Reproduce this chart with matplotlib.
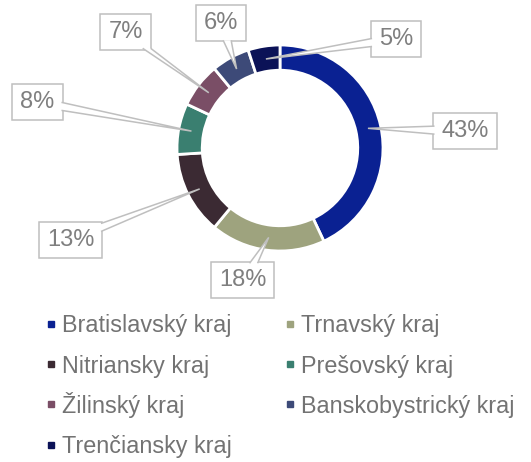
import numpy as np
import matplotlib
matplotlib.use("Agg")
import matplotlib.pyplot as plt
from matplotlib.patches import Polygon

# data
regions = ["Bratislavský kraj", "Trnavský kraj", "Nitriansky kraj", "Prešovský kraj",
           "Žilinský kraj", "Banskobystrický kraj", "Trenčiansky kraj"]
shares = [43, 18, 13, 8, 7, 6, 5]
colors = ["#0a2192", "#9ea37e", "#3b2a33", "#3a7f70", "#7a4e66", "#3d4a78", "#0b1257"]

# label box centres (pie radius = 1)
label_xy = [(1.796, 0.165), (-0.364, -1.282), (-2.034, -0.893), (-2.354, 0.451),
            (-1.500, 1.131), (-0.573, 1.209), (1.126, 1.063)]

PX = 1 / 103.0  # one pixel in data units (centre of ring at pixel 280,148)

plt.rcParams["font.family"] = ["Liberation Sans", "DejaVu Sans"]

fig = plt.figure(figsize=(5.31, 4.62), dpi=100)
ax = fig.add_axes([0, 0, 1, 1])

wedges, _ = ax.pie(shares, colors=colors, startangle=90, counterclock=False,
                   radius=1.0, wedgeprops=dict(width=0.245, edgecolor="white", linewidth=2))
ax.set_aspect("auto")
ax.set_xlim(-280 * PX, 251 * PX)
ax.set_ylim(-314 * PX, 148 * PX)
ax.axis("off")

fig.canvas.draw()
renderer = fig.canvas.get_renderer()

total = float(sum(shares))
start = 90.0
for i, v in enumerate(shares):
    mid = np.deg2rad(start - 360.0 * v / total / 2)
    start -= 360.0 * v / total
    tip = np.array([0.875 * np.cos(mid), 0.875 * np.sin(mid)])
    cx, cy = label_xy[i]
    t = ax.text(cx, cy, f"{v}%", ha="center", va="center", fontsize=17,
                color="#7f7f7f", zorder=5)
    bb = t.get_window_extent(renderer)
    w = bb.width * PX / 2 + 8 * PX
    h = 18 * PX
    box = Polygon([(cx - w, cy - h), (cx + w, cy - h), (cx + w, cy + h), (cx - w, cy + h)],
                  closed=True, fc="white", ec="#bfbfbf", lw=1.1, zorder=3)
    ax.add_patch(box)
    # pointer base where the ray centre->tip leaves the box
    d = tip - np.array([cx, cy])
    sx = w / abs(d[0]) if d[0] != 0 else np.inf
    sy = h / abs(d[1]) if d[1] != 0 else np.inf
    s = min(sx, sy)
    p = np.array([cx, cy]) + d * s
    half = 4 * PX
    inset = 1.2 * PX
    if sx < sy:
        yb = np.clip(p[1], cy - h + half, cy + h - half)
        xb = p[0] - np.sign(d[0]) * inset
        b1, b2 = (xb, yb - half), (xb, yb + half)
    else:
        xb = np.clip(p[0], cx - w + half, cx + w - half)
        yb = p[1] - np.sign(d[1]) * inset
        b1, b2 = (xb - half, yb), (xb + half, yb)
    ax.add_patch(Polygon([b1, tuple(tip), b2], closed=False, fc="white", ec="#bfbfbf",
                         lw=1.1, zorder=4))

# legend, two columns filled row by row
col_x = [50.5, 289.5]
row0, row_step = 332, 40.5
for k, name in enumerate(regions):
    mx = (col_x[k % 2] - 280) * PX
    base = (148 - (row0 + row_step * (k // 2))) * PX
    ax.plot([mx], [base + 8.5 * PX], ls="none", marker="s", markersize=5,
            color=colors[k], clip_on=False)
    ax.text(mx + 11.5 * PX, base, name, ha="left", va="baseline", fontsize=16.8,
            color="#737373", clip_on=False)

fig.savefig("out.png", dpi=100)
